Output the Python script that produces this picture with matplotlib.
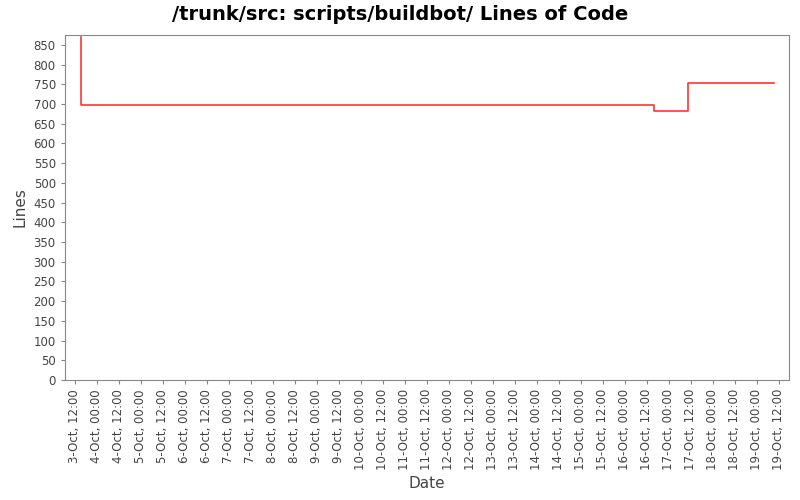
import matplotlib
matplotlib.use("Agg")
import matplotlib.pyplot as plt
import matplotlib.dates as mdates
from datetime import datetime, timedelta

# data
dates = [
    datetime(2009, 10, 3, 15, 30),
    datetime(2009, 10, 3, 15, 30),
    datetime(2009, 10, 16, 16, 0),
    datetime(2009, 10, 17, 10, 20),
    datetime(2009, 10, 19, 9, 20),
]
lines = [870, 697, 683, 752, 752]

tick_start = datetime(2009, 10, 3, 12, 0)
tick_dates = [tick_start + timedelta(hours=12 * i) for i in range(33)]

fig = plt.figure(figsize=(8, 5), dpi=100)
ax = fig.add_axes([0.081, 0.24, 0.905, 0.69])

ax.plot(dates, lines, drawstyle="steps-post", color="#ff3333", linewidth=1.2)

ax.set_xlim(tick_start - timedelta(hours=5.5), tick_dates[-1] + timedelta(hours=5.5))
ax.set_ylim(0, 875)
ax.set_yticks(range(0, 851, 50))
ax.set_xticks(tick_dates)
ax.xaxis.set_major_formatter(mdates.DateFormatter("%-d-%b, %H:%M"))

for lbl in ax.get_xticklabels():
    lbl.set_rotation(90)

ax.tick_params(axis="both", labelsize=8.5, colors="#888888", labelcolor="#444444", length=3)
for s in ax.spines.values():
    s.set_color("#888888")

ax.set_xlabel("Date", fontsize=11, color="#444444")
ax.set_ylabel("Lines", fontsize=11, color="#444444")
fig.suptitle("/trunk/src: scripts/buildbot/ Lines of Code", fontsize=14, fontweight="bold", y=0.99)

fig.savefig("out.png", dpi=100)
